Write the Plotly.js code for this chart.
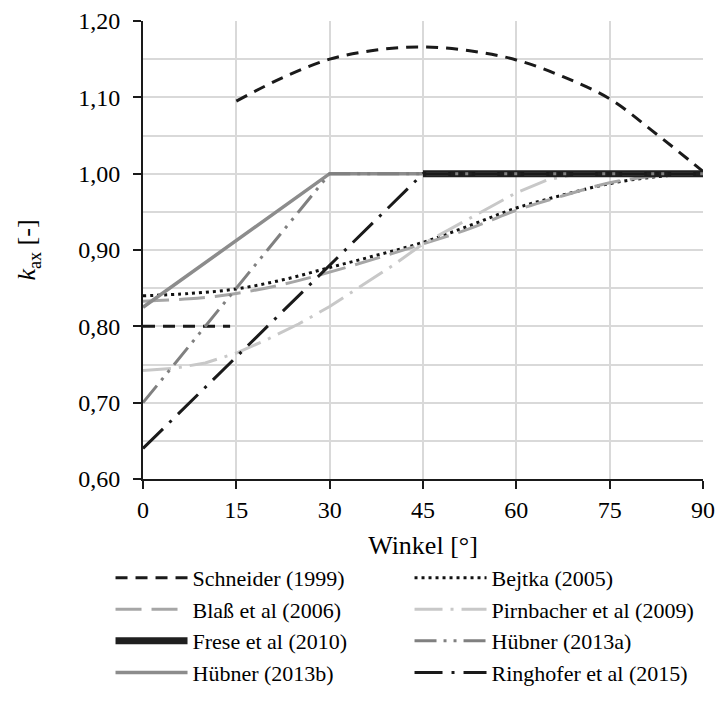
<!DOCTYPE html>
<html>
<head>
<meta charset="utf-8">
<script src="https://cdn.plot.ly/plotly-3.0.1.min.js"></script>
<style>
html,body{margin:0;padding:0;background:#fff;}
.modebar-container,.modebar{display:none !important;}
</style>
</head>
<body>
<div id="chart"></div>
<script>
// ---- data ----
const schneiderX = [0, 14, null, 15, 22.5, 30, 37.5, 45, 52.5, 60, 67.5, 75, 82.5, 90];
const schneiderY = [0.80, 0.80, null, 1.095, 1.126, 1.150, 1.162, 1.166, 1.161, 1.149, 1.127, 1.098, 1.052, 1.003];
const bejtkaX = [0, 7.5, 15, 22.5, 30, 37.5, 45, 52.5, 60, 67.5, 75, 82.5, 90];
const bejtkaY = [0.840, 0.843, 0.849, 0.861, 0.877, 0.893, 0.910, 0.932, 0.955, 0.972, 0.987, 0.996, 1.000];
const blassX = [0, 7.5, 15, 22.5, 30, 37.5, 45, 52.5, 60, 67.5, 75, 82.5, 90];
const blassY = [0.833, 0.836, 0.843, 0.855, 0.871, 0.889, 0.908, 0.928, 0.952, 0.971, 0.988, 0.997, 1.000];
const pirnX = [0, 5, 10, 15, 20, 25, 30, 35, 40, 45, 50, 55, 60, 65, 70, 90];
const pirnY = [0.742, 0.745, 0.752, 0.765, 0.783, 0.803, 0.826, 0.852, 0.879, 0.908, 0.930, 0.953, 0.975, 0.992, 1.000, 1.000];
const freseX = [45, 90];
const freseY = [1.00, 1.00];
const huebnerAX = [0, 30, 90];
const huebnerAY = [0.70, 1.00, 1.00];
const huebnerBX = [0, 30, 90];
const huebnerBY = [0.825, 1.00, 1.00];
const ringX = [0, 45, 90];
const ringY = [0.64, 1.00, 1.00];
const xTicks = [0, 15, 30, 45, 60, 75, 90];
const yTicks = [0.6, 0.7, 0.8, 0.9, 1.0, 1.1, 1.2];

const FONT = 'Liberation Serif';

const traces = [
  {name: 'Schneider (1999)', x: schneiderX, y: schneiderY, legendrank: 1, line: {color: '#1a1a1a', width: 3, dash: '12px,8px', shape: 'spline'}},
  {name: 'Bejtka (2005)', x: bejtkaX, y: bejtkaY, legendrank: 2, line: {color: '#111111', width: 3, dash: '3px,4px', shape: 'spline'}},
  {name: 'Blaß et al (2006)', x: blassX, y: blassY, legendrank: 3, line: {color: '#a6a6a6', width: 3, dash: '26px,10px', shape: 'spline'}},
  {name: 'Pirnbacher et al (2009)', x: pirnX, y: pirnY, legendrank: 4, line: {color: '#c8c8c8', width: 3, dash: '28px,8px,3px,8px'}},
  {name: 'Hübner (2013b)', x: huebnerBX, y: huebnerBY, legendrank: 7, line: {color: '#8c8c8c', width: 3.5}},
  {name: 'Frese et al (2010)', x: freseX, y: freseY, legendrank: 5, line: {color: '#1f1f1f', width: 7}},
  {name: 'Hübner (2013a)', x: huebnerAX, y: huebnerAY, legendrank: 6, line: {color: '#808080', width: 3, dash: '22px,7px,3px,7px,3px,7px'}},
  {name: 'Ringhofer et al (2015)', x: ringX, y: ringY, legendrank: 8, line: {color: '#1a1a1a', width: 3, dash: '28px,9px,3px,9px'}}
].map(t => Object.assign({type: 'scatter', mode: 'lines', connectgaps: false}, t));

const layout = {
  width: 718, height: 706,
  margin: {l: 143, r: 15, t: 21, b: 214},
  separators: ',.',
  font: {family: FONT, size: 24, color: '#000000'},
  showlegend: true,
  legend: {
    orientation: 'h', x: -0.058, xanchor: 'left', y: -0.17, yanchor: 'top',
    entrywidth: 212, entrywidthmode: 'pixels', itemwidth: 72,
    traceorder: 'normal', font: {family: FONT, size: 22, color: '#000000'}
  },
  xaxis: {
    range: [0, 90], tickmode: 'array', tickvals: xTicks,
    showgrid: true, gridcolor: '#d9d9d9', gridwidth: 1.5,
    showline: true, linecolor: '#1a1a1a', linewidth: 2,
    ticks: 'outside', ticklen: 8, tickwidth: 1.5, tickcolor: '#1a1a1a',
    zeroline: false,
    tickfont: {family: FONT, size: 24, color: '#000000'},
    title: {text: 'Winkel [°]', font: {family: FONT, size: 26, color: '#000000'}, standoff: 14}
  },
  yaxis: {
    range: [0.6, 1.2], tickmode: 'array', tickvals: yTicks, tickformat: '.2f',
    showgrid: true, gridcolor: '#d9d9d9', gridwidth: 1.5,
    minor: {dtick: 0.05, tick0: 0.6, showgrid: true, gridcolor: '#d9d9d9', gridwidth: 1.5},
    showline: true, linecolor: '#1a1a1a', linewidth: 2,
    ticks: 'outside', ticklen: 8, tickwidth: 1.5, tickcolor: '#1a1a1a',
    ticklabelstandoff: 8,
    zeroline: false,
    tickfont: {family: FONT, size: 24, color: '#000000'},
    title: {text: '<i>k</i><sub>ax</sub> [-]', font: {family: FONT, size: 26, color: '#000000'}, standoff: 35}
  }
};

Plotly.newPlot('chart', traces, layout);
</script>
</body>
</html>
